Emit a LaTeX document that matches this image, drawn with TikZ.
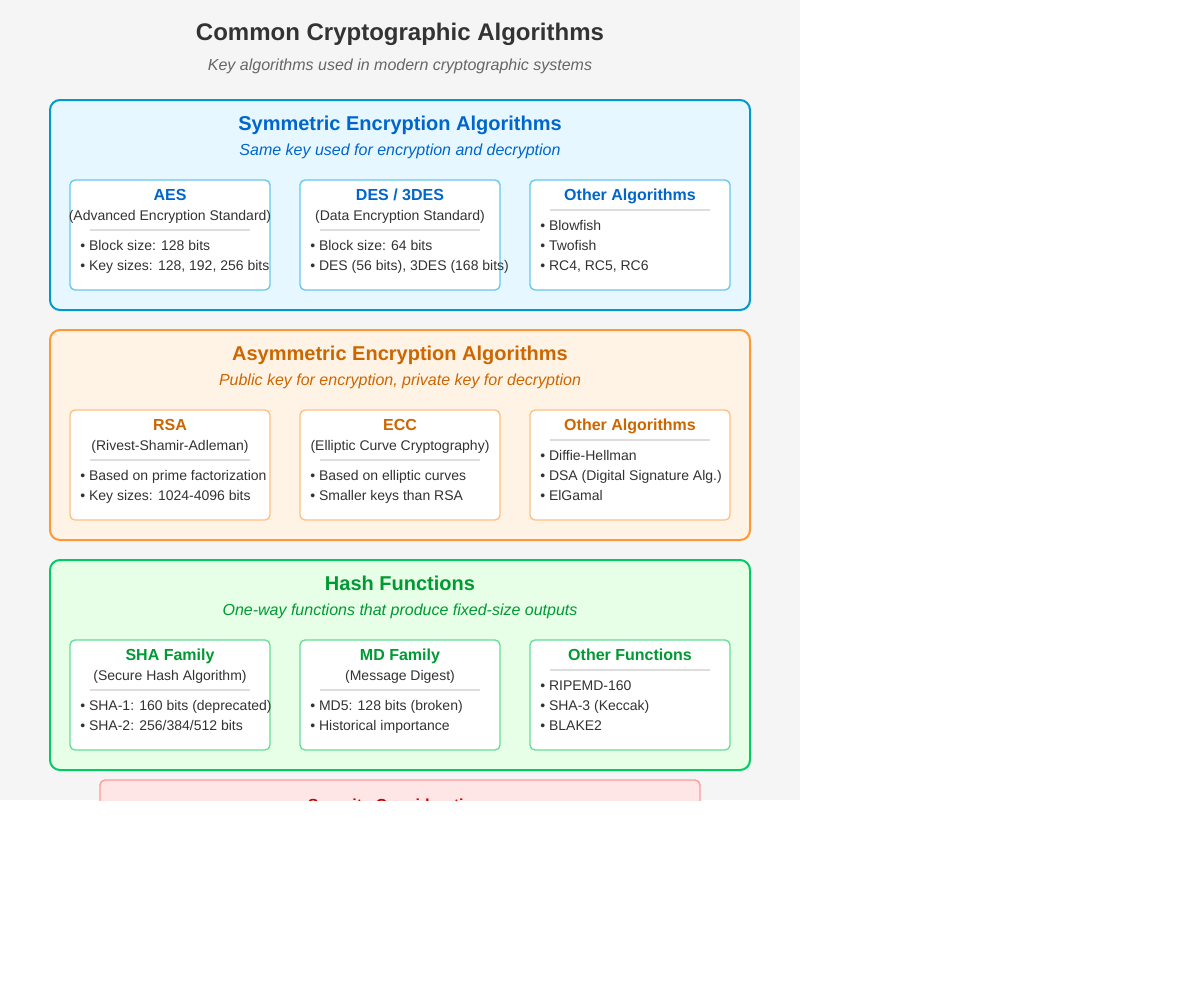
\documentclass[tikz,border=0pt]{standalone}
\usepackage{fontspec}
\setmainfont{Liberation Sans}
\usepackage{tikz}
\usetikzlibrary{positioning}
\definecolor{pageGray}{RGB}{245, 245, 245}
\definecolor{bodyText}{RGB}{51, 51, 51}
\definecolor{subText}{RGB}{102, 102, 102}
\definecolor{ruleGray}{RGB}{221, 221, 221}
\definecolor{symStroke}{RGB}{0, 153, 204}
\definecolor{symFill}{RGB}{230, 247, 255}
\definecolor{symText}{RGB}{0, 102, 204}
\definecolor{symCard}{RGB}{102, 200, 235}
\definecolor{asymStroke}{RGB}{255, 153, 51}
\definecolor{asymFill}{RGB}{255, 243, 230}
\definecolor{asymText}{RGB}{204, 102, 0}
\definecolor{asymCard}{RGB}{255, 191, 128}
\definecolor{hashStroke}{RGB}{0, 204, 102}
\definecolor{hashFill}{RGB}{230, 255, 230}
\definecolor{hashText}{RGB}{0, 153, 51}
\definecolor{hashCard}{RGB}{102, 221, 153}
\definecolor{secStroke}{RGB}{255, 153, 153}
\definecolor{secFill}{RGB}{255, 230, 230}
\definecolor{secText}{RGB}{204, 0, 0}

\begin{document}
\begin{tikzpicture}[
    x=0.75pt, y=-0.75pt,
    section/.style={
        draw=#1Stroke,
        fill=#1Fill,
        line width=1.5pt,
        rounded corners=7.5pt
    },
    card/.style={
        rectangle,
        draw=#1Card,
        fill=white,
        line width=1pt,
        rounded corners=3.75pt,
        minimum width=150pt,
        minimum height=82.5pt,
        inner sep=0pt
    },
    heading/.style={anchor=base, text=#1, font=\fontsize{15}{18}\selectfont\bfseries},
    tagline/.style={anchor=base, text=#1, font=\fontsize{12}{14}\selectfont\itshape},
    cardtitle/.style={anchor=base, text=#1, font=\fontsize{12}{14}\selectfont\bfseries, inner sep=0pt},
    cardsub/.style={anchor=base, text=bodyText, font=\fontsize{10.5}{12}\selectfont, inner sep=0pt},
    item/.style={anchor=base west, text=bodyText, font=\fontsize{10.5}{12}\selectfont, inner sep=0pt},
    sep/.style={draw=ruleGray, line width=1.5pt}
]
    \useasboundingbox (0,0) rectangle (1200,1000);
    \fill[pageGray] (0,0) rectangle (800,800);

    % Title
    \node[anchor=base, text=bodyText, font=\fontsize{18}{22}\selectfont\bfseries] (title) at (400,40) {Common Cryptographic Algorithms};
    \node[anchor=base, text=subText, font=\fontsize{12}{14}\selectfont\itshape] (subtitle) at (400,70) {Key algorithms used in modern cryptographic systems};

    % Symmetric
    \draw[section=sym] (50,100) rectangle (750,310);
    \node[heading=symText] (symHead) at (400,130) {Symmetric Encryption Algorithms};
    \node[tagline=symText] (symTag) at (400,155) {Same key used for encryption and decryption};
    \node[card=sym] (aes) at (170,235) {};
    \node[card=sym] (des) at (400,235) {};
    \node[card=sym] (symOther) at (630,235) {};
    \node[cardtitle=symText] (aesT) at (170,200) {AES};
    \node[cardsub] (aesS) at (170,220) {(Advanced Encryption Standard)};
    \draw[sep] (90,230) -- (250,230);
    \node[item] (aes1) at (80,250) {• Block size: 128 bits};
    \node[item] (aes2) at (80,270) {• Key sizes: 128, 192, 256 bits};
    \node[cardtitle=symText] (desT) at (400,200) {DES / 3DES};
    \node[cardsub] (desS) at (400,220) {(Data Encryption Standard)};
    \draw[sep] (320,230) -- (480,230);
    \node[item] (des1) at (310,250) {• Block size: 64 bits};
    \node[item] (des2) at (310,270) {• DES (56 bits), 3DES (168 bits)};
    \node[cardtitle=symText] (symOtherT) at (630,200) {Other Algorithms};
    \draw[sep] (550,210) -- (710,210);
    \node[item] (symOther1) at (540,230) {• Blowfish};
    \node[item] (symOther2) at (540,250) {• Twofish};
    \node[item] (symOther3) at (540,270) {• RC4, RC5, RC6};

    % Asymmetric
    \draw[section=asym] (50,330) rectangle (750,540);
    \node[heading=asymText] (asymHead) at (400,360) {Asymmetric Encryption Algorithms};
    \node[tagline=asymText] (asymTag) at (400,385) {Public key for encryption, private key for decryption};
    \node[card=asym] (rsa) at (170,465) {};
    \node[card=asym] (ecc) at (400,465) {};
    \node[card=asym] (asymOther) at (630,465) {};
    \node[cardtitle=asymText] (rsaT) at (170,430) {RSA};
    \node[cardsub] (rsaS) at (170,450) {(Rivest-Shamir-Adleman)};
    \draw[sep] (90,460) -- (250,460);
    \node[item] (rsa1) at (80,480) {• Based on prime factorization};
    \node[item] (rsa2) at (80,500) {• Key sizes: 1024-4096 bits};
    \node[cardtitle=asymText] (eccT) at (400,430) {ECC};
    \node[cardsub] (eccS) at (400,450) {(Elliptic Curve Cryptography)};
    \draw[sep] (320,460) -- (480,460);
    \node[item] (ecc1) at (310,480) {• Based on elliptic curves};
    \node[item] (ecc2) at (310,500) {• Smaller keys than RSA};
    \node[cardtitle=asymText] (asymOtherT) at (630,430) {Other Algorithms};
    \draw[sep] (550,440) -- (710,440);
    \node[item] (asymOther1) at (540,460) {• Diffie-Hellman};
    \node[item] (asymOther2) at (540,480) {• DSA (Digital Signature Alg.)};
    \node[item] (asymOther3) at (540,500) {• ElGamal};

    % Hash
    \draw[section=hash] (50,560) rectangle (750,770);
    \node[heading=hashText] (hashHead) at (400,590) {Hash Functions};
    \node[tagline=hashText] (hashTag) at (400,615) {One-way functions that produce fixed-size outputs};
    \node[card=hash] (sha) at (170,695) {};
    \node[card=hash] (md) at (400,695) {};
    \node[card=hash] (hashOther) at (630,695) {};
    \node[cardtitle=hashText] (shaT) at (170,660) {SHA Family};
    \node[cardsub] (shaS) at (170,680) {(Secure Hash Algorithm)};
    \draw[sep] (90,690) -- (250,690);
    \node[item] (sha1) at (80,710) {• SHA-1: 160 bits (deprecated)};
    \node[item] (sha2) at (80,730) {• SHA-2: 256/384/512 bits};
    \node[cardtitle=hashText] (mdT) at (400,660) {MD Family};
    \node[cardsub] (mdS) at (400,680) {(Message Digest)};
    \draw[sep] (320,690) -- (480,690);
    \node[item] (md1) at (310,710) {• MD5: 128 bits (broken)};
    \node[item] (md2) at (310,730) {• Historical importance};
    \node[cardtitle=hashText] (hashOtherT) at (630,660) {Other Functions};
    \draw[sep] (550,670) -- (710,670);
    \node[item] (hashOther1) at (540,690) {• RIPEMD-160};
    \node[item] (hashOther2) at (540,710) {• SHA-3 (Keccak)};
    \node[item] (hashOther3) at (540,730) {• BLAKE2};

    % Security (cut off by the page)
    \begin{scope}
        \clip (0,0) rectangle (800,800);
        \draw[draw=secStroke, fill=secFill, line width=1pt, rounded corners=3.75pt] (100,780) rectangle (700,900);
        \node[anchor=base, text=secText, font=\fontsize{12}{14}\selectfont\bfseries] (secHead) at (400,810) {Security Considerations};
    \end{scope}
\end{tikzpicture}
\end{document}
